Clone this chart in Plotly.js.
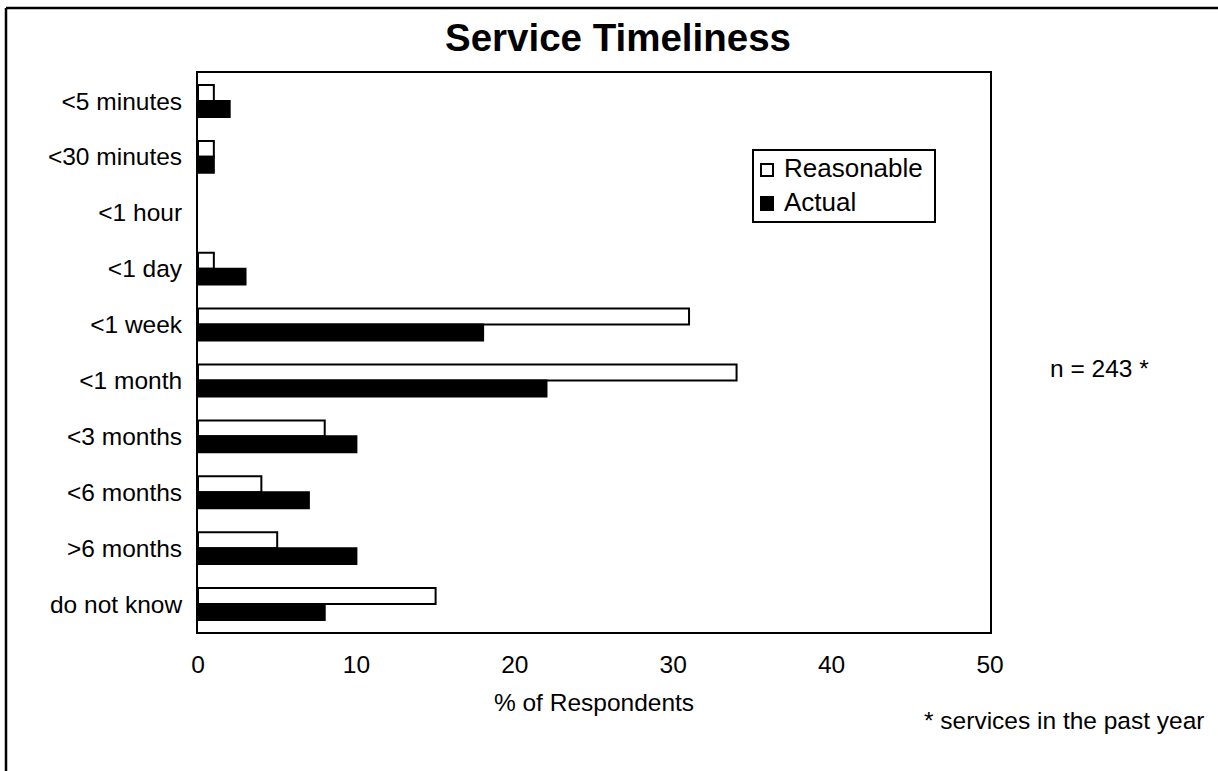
<!DOCTYPE html>
<html>
<head>
<meta charset="utf-8">
<script src="https://cdn.plot.ly/plotly-3.0.1.min.js"></script>
<style>html,body{margin:0;padding:0;background:#fff;}#chart{width:1218px;height:771px;}</style>
</head>
<body>
<div id="chart"></div>
<script>
const categories = ["<5 minutes", "<30 minutes", "<1 hour", "<1 day", "<1 week", "<1 month", "<3 months", "<6 months", ">6 months", "do not know"];
const reasonable = [1, 1, 0, 1, 31, 34, 8, 4, 5, 15];
const actual = [2, 1, 0, 3, 18, 22, 10, 7, 10, 8];
const xTicks = [0, 10, 20, 30, 40, 50];
const seriesNames = ["Reasonable", "Actual"];

const W = 1218, H = 771;
const L = 198, R = 990, T = 73, B = 632;
const px = v => (v - L) / (R - L);
const py = v => (B - v) / (B - T);
const font = "Liberation Sans, Arial, sans-serif";
const FS = 24.5;

const traces = [
  {type: 'bar', orientation: 'h', name: seriesNames[0], y: categories, x: reasonable,
   marker: {color: '#ffffff', line: {color: '#000000', width: reasonable.map(v => v === 0 ? 0 : 2)}}},
  {type: 'bar', orientation: 'h', name: seriesNames[1], y: categories, x: actual,
   marker: {color: '#000000', line: {color: '#000000', width: actual.map(v => v === 0 ? 0 : 2)}}}
];

const layout = {
  width: W, height: H,
  margin: {l: L, r: W - R, t: T, b: H - B, pad: 0},
  paper_bgcolor: '#ffffff', plot_bgcolor: '#ffffff',
  font: {family: font, color: '#000', size: FS},
  barmode: 'group', bargap: 0.43, bargroupgap: 0,
  title: {text: '<b>Service Timeliness</b>', font: {family: font, size: 38.5, color: '#000'},
          x: px(618), xref: 'paper', xanchor: 'center', y: 1 - 38 / H, yref: 'container', yanchor: 'middle'},
  xaxis: {range: [0, 50], tickvals: xTicks, ticktext: xTicks.map(String), showgrid: false, zeroline: false,
          showline: true, mirror: true, linecolor: '#000', linewidth: 2, ticks: 'outside', ticklen: 10,
          tickcolor: 'rgba(0,0,0,0)', tickfont: {size: FS}, title: {text: '% of Respondents', font: {size: FS}, standoff: 16}},
  yaxis: {type: 'category', categoryorder: 'array', categoryarray: categories, autorange: 'reversed',
          showgrid: false, zeroline: false, showline: true, mirror: true, linecolor: '#000', linewidth: 2,
          ticks: 'outside', ticklen: 9, tickcolor: 'rgba(0,0,0,0)', tickfont: {size: FS}},
  showlegend: false,
  annotations: [
    {text: seriesNames[0], xref: 'paper', yref: 'paper', x: px(782), y: py(168), showarrow: false,
     xanchor: 'left', yanchor: 'middle', font: {size: 26}},
    {text: seriesNames[1], xref: 'paper', yref: 'paper', x: px(782), y: py(202), showarrow: false,
     xanchor: 'left', yanchor: 'middle', font: {size: 26}},
    {text: 'n = 243 *', xref: 'paper', yref: 'paper', x: px(1099), y: py(368), showarrow: false,
     xanchor: 'center', yanchor: 'middle', font: {size: FS}},
    {text: '* services in the past year', xref: 'paper', yref: 'paper', x: px(1207), y: py(720), showarrow: false,
     xanchor: 'right', yanchor: 'middle', font: {size: FS}}
  ],
  shapes: [
    {type: 'rect', xref: 'paper', yref: 'paper', x0: px(753), x1: px(935), y0: py(150), y1: py(222),
     line: {color: '#000', width: 2}, fillcolor: '#fff', layer: 'above'},
    {type: 'rect', xref: 'paper', yref: 'paper', x0: px(761), x1: px(773), y0: py(164), y1: py(176),
     line: {color: '#000', width: 2}, fillcolor: '#fff', layer: 'above'},
    {type: 'rect', xref: 'paper', yref: 'paper', x0: px(761), x1: px(773), y0: py(197), y1: py(210),
     line: {color: '#000', width: 2}, fillcolor: '#000', layer: 'above'},
    {type: 'line', xref: 'paper', yref: 'paper', x0: px(6), x1: px(6), y0: py(8), y1: py(800), line: {color: '#000', width: 2.5}},
    {type: 'line', xref: 'paper', yref: 'paper', x0: px(6), x1: px(1230), y0: py(8), y1: py(8), line: {color: '#000', width: 2.5}}
  ]
};

Plotly.newPlot('chart', traces, layout, {displayModeBar: false, staticPlot: true});
</script>
</body>
</html>
